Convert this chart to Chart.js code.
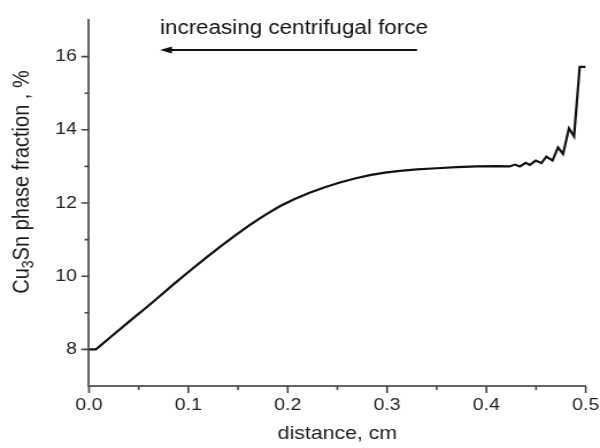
<!DOCTYPE html>
<html>
<head>
<meta charset="utf-8">
<script src="https://cdn.jsdelivr.net/npm/chart.js@4"></script>
<style>
  html, body { margin: 0; padding: 0; background: #fff; }
  /* the picture is a little wider than tall text would suggest, so stretch the canvas */
  #c { display: block; }
</style>
</head>
<body>
<canvas id="c" width="522" height="448" style="width:600px;height:448px"></canvas>
<script>
// distance (cm) and Cu3Sn phase fraction (%)
const distance = [0, 0.007, 0.0245, 0.0412, 0.058, 0.0714, 0.0865, 0.1016, 0.1167, 0.1318,
  0.1469, 0.162, 0.177, 0.192, 0.207, 0.222, 0.2374, 0.2525, 0.2676, 0.2827,
  0.2978, 0.3129, 0.33, 0.35, 0.37, 0.39, 0.41, 0.4235, 0.4286, 0.4336,
  0.4396, 0.4437, 0.4497, 0.4554, 0.4604, 0.4665, 0.4721, 0.4771, 0.4831, 0.4882,
  0.4939, 0.5];
const fraction = [8.0, 8.0, 8.40, 8.78, 9.15, 9.46, 9.81, 10.15, 10.48, 10.80,
  11.11, 11.40, 11.67, 11.91, 12.11, 12.28, 12.43, 12.56, 12.67, 12.76,
  12.83, 12.88, 12.92, 12.95, 12.98, 13.0, 13.01, 13.0, 13.05, 13.0,
  13.1, 13.04, 13.16, 13.09, 13.27, 13.16, 13.52, 13.34, 14.04, 13.82,
  15.72, 15.72];

const xMajor = [0, 0.1, 0.2, 0.3, 0.4, 0.5];
const xMinor = [0.05, 0.15, 0.25, 0.35, 0.45];
const yMajor = [8, 10, 12, 14, 16];
const yMinor = [9, 11, 13, 15];

const SX = 600 / 522; // horizontal stretch of the canvas
const FONT = '"Liberation Sans", Arial, sans-serif';

// tick marks, y title with subscript, arrow annotation
const decor = {
  id: 'decor',
  afterDraw(chart) {
    const { ctx, scales: { x, y } } = chart;
    ctx.save();
    ctx.strokeStyle = '#444';
    ctx.lineWidth = 1.6;
    ctx.beginPath();
    xMajor.forEach(v => { const p = x.getPixelForValue(v); ctx.moveTo(p, y.bottom); ctx.lineTo(p, y.bottom + 7); });
    xMinor.forEach(v => { const p = x.getPixelForValue(v); ctx.moveTo(p, y.bottom); ctx.lineTo(p, y.bottom + 4); });
    yMajor.forEach(v => { const p = y.getPixelForValue(v); ctx.moveTo(x.left, p); ctx.lineTo(x.left - 6.7, p); });
    yMinor.forEach(v => { const p = y.getPixelForValue(v); ctx.moveTo(x.left, p); ctx.lineTo(x.left - 3.8, p); });
    ctx.stroke();

    // y axis title
    ctx.fillStyle = '#1a1a1a';
    ctx.translate(22 / SX, 182);
    ctx.rotate(-Math.PI / 2);
    const big = '20px ' + FONT, small = '14px ' + FONT;
    const parts = [['Cu', big, 0], ['3', small, 6], ['Sn phase fraction , %', big, 0]];
    let total = 0;
    parts.forEach(p => { ctx.font = p[1]; p.push(ctx.measureText(p[0]).width); total += p[3]; });
    let cx = -total / 2;
    ctx.textBaseline = 'middle';
    parts.forEach(p => { ctx.font = p[1]; ctx.fillText(p[0], cx, p[2]); cx += p[3]; });
    ctx.restore();

    // annotation
    ctx.save();
    ctx.fillStyle = '#111';
    ctx.font = '19.5px ' + FONT;
    ctx.textBaseline = 'alphabetic';
    ctx.fillText('increasing centrifugal force', 160 / SX, 33.5);
    const tip = 160 / SX, tail = 417 / SX, ay = 50;
    ctx.strokeStyle = '#111';
    ctx.lineWidth = 2.2;
    ctx.beginPath();
    ctx.moveTo(tail, ay);
    ctx.lineTo(tip + 6, ay);
    ctx.stroke();
    ctx.beginPath();
    ctx.moveTo(tip, ay);
    ctx.lineTo(tip + 10.4, ay - 3.6);
    ctx.lineTo(tip + 10.4, ay + 3.6);
    ctx.closePath();
    ctx.fill();
    ctx.restore();
  }
};

new Chart(document.getElementById('c'), {
  type: 'scatter',
  data: {
    datasets: [{
      data: distance.map((d, i) => ({ x: d, y: fraction[i] })),
      showLine: true,
      borderColor: '#111',
      borderWidth: 2.2,
      pointRadius: 0,
      tension: 0
    }]
  },
  options: {
    responsive: false,
    animation: false,
    layout: { padding: { left: 0, right: 12.4, top: 20, bottom: 0 } },
    plugins: { legend: { display: false }, tooltip: { enabled: false } },
    scales: {
      x: {
        type: 'linear',
        min: 0, max: 0.5,
        afterFit: s => { s.height = 62; s.paddingLeft = 0; s.paddingRight = 0; },
        grid: { drawOnChartArea: false, drawTicks: false },
        border: { color: '#666', width: 2 },
        ticks: {
          stepSize: 0.1,
          padding: 9,
          color: '#222',
          font: { family: FONT, size: 17 },
          callback: v => v.toFixed(1)
        },
        title: {
          display: true,
          text: 'distance, cm',
          color: '#1a1a1a',
          font: { family: FONT, size: 18.5 },
          padding: { top: 0, bottom: 3 }
        }
      },
      y: {
        min: 7, max: 17,
        afterFit: s => { s.width = 89 / SX; s.paddingTop = 0; s.paddingBottom = 0; },
        grid: { drawOnChartArea: false, drawTicks: false },
        border: { color: '#666', width: 2 },
        ticks: {
          stepSize: 1,
          autoSkip: false,
          padding: 10.4,
          color: '#222',
          font: { family: FONT, size: 17 },
          callback: v => (v % 2 === 0 ? v : '')
        }
      }
    }
  },
  plugins: [decor]
});
</script>
</body>
</html>
